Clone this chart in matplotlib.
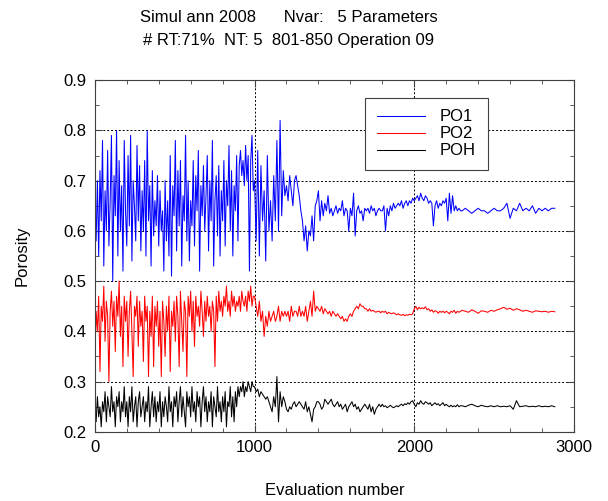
import numpy as np
import matplotlib
matplotlib.use("Agg")
import matplotlib.pyplot as plt
from matplotlib.ticker import MultipleLocator

plt.rcParams['font.family'] = ['Liberation Sans', 'DejaVu Sans']

# evaluation numbers for the sampled stretches
x_early = np.arange(0, 1000, 8)       # 125 points
x_mid = np.arange(1000, 1400, 10)     # 40 points
x_late1 = np.arange(1400, 2300, 10)   # 90 points
x_late2 = np.arange(2300, 2881, 20)   # 30 points

po1_early = [0.64,0.58,0.70,0.55,0.72,0.62,0.78,0.53,0.68,0.60,0.76,0.57,0.66,
             0.79,0.50,0.71,0.63,0.80,0.55,0.74,0.60,0.69,0.52,0.78,0.64,
             0.57,0.75,0.61,0.79,0.54,0.70,0.65,0.58,0.77,0.62,0.73,0.56,0.68,
             0.60,0.74,0.55,0.80,0.62,0.69,0.53,0.72,0.59,0.66,0.61,0.71,
             0.57,0.68,0.60,0.64,0.52,0.70,0.58,0.66,0.55,0.75,0.51,0.69,0.63,
             0.78,0.56,0.72,0.61,0.74,0.53,0.67,0.62,0.79,0.58,0.70,0.54,
             0.66,0.61,0.74,0.57,0.71,0.64,0.76,0.52,0.69,0.63,0.73,0.60,0.67,
             0.75,0.56,0.70,0.62,0.78,0.53,0.66,0.71,0.59,0.73,0.55,0.68,
             0.62,0.74,0.57,0.70,0.65,0.77,0.60,0.72,0.55,0.69,0.64,0.75,0.58,
             0.73,0.76,0.71,0.74,0.69,0.77,0.70,0.75,0.52,0.74,0.79,0.68]
po1_mid = [0.70,0.58,0.76,0.55,0.73,0.62,0.68,0.54,0.75,0.60,
           0.66,0.58,0.71,0.62,0.78,0.60,0.82,0.63,0.72,0.67,
           0.69,0.66,0.71,0.68,0.65,0.70,0.71,0.69,0.67,0.64,
           0.62,0.58,0.61,0.56,0.60,0.59,0.63,0.58,0.65,0.66]
po1_late1 = [0.68,0.62,0.66,0.63,0.655,0.64,0.67,0.635,0.645,0.63,
             0.64,0.65,0.635,0.645,0.64,0.66,0.63,0.645,0.64,0.60,
             0.645,0.63,0.675,0.59,0.64,0.65,0.635,0.64,0.62,0.645,
             0.64,0.645,0.635,0.65,0.64,0.645,0.63,0.64,0.645,0.64,
             0.64,0.65,0.60,0.645,0.63,0.65,0.64,0.655,0.645,0.65,
             0.655,0.65,0.66,0.645,0.655,0.66,0.65,0.66,0.655,0.665,
             0.66,0.665,0.67,0.66,0.675,0.665,0.66,0.67,0.665,0.655,
             0.66,0.655,0.61,0.65,0.66,0.645,0.655,0.65,0.66,0.655,
             0.665,0.62,0.675,0.635,0.67,0.64,0.65,0.64,0.645,0.64]
po1_late2 = [0.64,0.645,0.64,0.635,0.64,0.645,0.64,0.64,0.635,0.64,
             0.645,0.64,0.64,0.645,0.655,0.625,0.645,0.64,0.655,0.64,
             0.645,0.64,0.65,0.635,0.645,0.64,0.645,0.64,0.645,0.645]

po2_early = [0.35,0.44,0.40,0.47,0.32,0.45,0.42,0.49,0.38,0.46,0.43,0.30,0.44,
             0.48,0.41,0.46,0.36,0.47,0.43,0.50,0.39,0.45,0.33,0.47,0.42,
             0.46,0.35,0.44,0.48,0.40,0.31,0.45,0.43,0.47,0.37,0.46,0.41,0.44,
             0.34,0.47,0.42,0.45,0.31,0.44,0.39,0.47,0.33,0.45,0.41,0.46,
             0.37,0.44,0.31,0.46,0.42,0.35,0.45,0.40,0.47,0.32,0.44,0.41,0.46,
             0.38,0.47,0.43,0.33,0.48,0.42,0.36,0.46,0.44,0.31,0.47,0.43,
             0.48,0.40,0.46,0.37,0.47,0.43,0.45,0.41,0.48,0.44,0.39,0.46,0.42,
             0.47,0.43,0.45,0.40,0.46,0.44,0.33,0.47,0.42,0.48,0.44,0.46,
             0.43,0.47,0.45,0.49,0.44,0.46,0.43,0.48,0.45,0.47,0.44,0.46,0.45,
             0.47,0.44,0.48,0.46,0.45,0.47,0.44,0.48,0.46,0.49,0.45,0.47]
po2_mid = [0.47,0.45,0.43,0.46,0.42,0.44,0.39,0.43,0.41,0.44,
           0.42,0.43,0.44,0.42,0.43,0.45,0.42,0.44,0.43,0.44,
           0.43,0.44,0.42,0.45,0.43,0.44,0.44,0.43,0.45,0.43,
           0.44,0.43,0.45,0.42,0.44,0.46,0.43,0.48,0.44,0.45]
po2_late1 = [0.445,0.44,0.45,0.435,0.445,0.44,0.435,0.44,0.43,0.44,
             0.435,0.43,0.435,0.43,0.425,0.43,0.42,0.425,0.42,0.43,
             0.435,0.43,0.44,0.445,0.45,0.445,0.455,0.45,0.45,0.445,
             0.445,0.44,0.445,0.44,0.442,0.44,0.438,0.44,0.44,0.437,
             0.44,0.438,0.44,0.435,0.438,0.436,0.435,0.437,0.435,0.433,
             0.435,0.433,0.432,0.434,0.431,0.433,0.432,0.434,0.433,0.435,
             0.445,0.45,0.443,0.448,0.445,0.447,0.445,0.449,0.443,0.445,
             0.44,0.443,0.438,0.441,0.44,0.436,0.44,0.438,0.44,0.437,
             0.44,0.438,0.435,0.44,0.438,0.442,0.436,0.44,0.438,0.44]
po2_late2 = [0.442,0.44,0.438,0.443,0.44,0.436,0.441,0.44,0.438,0.442,
             0.44,0.443,0.445,0.448,0.444,0.446,0.442,0.445,0.443,0.44,
             0.442,0.44,0.438,0.441,0.44,0.439,0.44,0.438,0.44,0.439]

poh_early = [0.24,0.22,0.27,0.23,0.25,0.21,0.26,0.24,0.28,0.22,0.27,0.25,0.23,
             0.29,0.24,0.26,0.21,0.27,0.25,0.28,0.22,0.26,0.24,0.29,0.23,
             0.26,0.21,0.27,0.24,0.29,0.22,0.25,0.27,0.21,0.26,0.28,0.23,0.25,
             0.27,0.22,0.26,0.24,0.29,0.21,0.25,0.28,0.23,0.27,0.22,0.26,
             0.24,0.28,0.21,0.26,0.23,0.27,0.25,0.22,0.29,0.24,0.26,0.21,0.27,
             0.25,0.28,0.22,0.26,0.29,0.23,0.27,0.24,0.21,0.28,0.25,0.27,
             0.23,0.29,0.24,0.26,0.22,0.28,0.25,0.27,0.21,0.26,0.29,0.24,0.27,
             0.22,0.26,0.24,0.28,0.21,0.27,0.25,0.23,0.29,0.24,0.26,0.22,
             0.27,0.24,0.28,0.21,0.26,0.25,0.29,0.23,0.27,0.22,0.28,0.25,0.29,
             0.27,0.29,0.28,0.30,0.27,0.29,0.28,0.30,0.29,0.28,0.30,0.29]
poh_mid = [0.29,0.28,0.285,0.27,0.28,0.275,0.27,0.265,0.27,0.26,
           0.25,0.24,0.27,0.25,0.31,0.22,0.28,0.25,0.27,0.26,
           0.245,0.24,0.25,0.245,0.255,0.26,0.25,0.255,0.26,0.255,
           0.25,0.245,0.26,0.24,0.25,0.235,0.22,0.245,0.25,0.26]
poh_late1 = [0.26,0.255,0.245,0.25,0.265,0.26,0.255,0.26,0.265,0.255,
             0.25,0.255,0.26,0.25,0.255,0.245,0.25,0.255,0.24,0.25,
             0.255,0.26,0.25,0.255,0.245,0.25,0.24,0.245,0.25,0.255,
             0.25,0.245,0.255,0.24,0.25,0.235,0.245,0.25,0.255,0.25,
             0.255,0.25,0.252,0.248,0.25,0.253,0.25,0.248,0.25,0.252,
             0.25,0.253,0.255,0.252,0.256,0.254,0.258,0.255,0.26,0.262,
             0.255,0.25,0.258,0.255,0.262,0.257,0.255,0.26,0.258,0.255,
             0.258,0.252,0.255,0.258,0.254,0.256,0.252,0.255,0.258,0.252,
             0.255,0.252,0.25,0.253,0.25,0.252,0.25,0.254,0.25,0.252]
poh_late2 = [0.252,0.25,0.253,0.255,0.252,0.25,0.253,0.251,0.25,0.252,
             0.25,0.252,0.25,0.251,0.25,0.252,0.245,0.262,0.25,0.251,
             0.252,0.25,0.251,0.25,0.252,0.25,0.251,0.25,0.252,0.25]

x = np.concatenate([x_early, x_mid, x_late1, x_late2])
po1 = np.concatenate([po1_early, po1_mid, po1_late1, po1_late2])
po2 = np.concatenate([po2_early, po2_mid, po2_late1, po2_late2])
poh = np.concatenate([poh_early, poh_mid, poh_late1, poh_late2])

fig = plt.figure(figsize=(6.08, 5.01), dpi=100)
ax = fig.add_axes([0.156, 0.138, 0.788, 0.702])

ax.plot(x, po1, color='#0000ff', lw=0.75, label='PO1')
ax.plot(x, po2, color='#ff0000', lw=0.75, label='PO2')
ax.plot(x, poh, color='black', lw=0.75, label='POH')

ax.set_xlim(0, 3000)
ax.set_ylim(0.2, 0.9)
ax.xaxis.set_major_locator(MultipleLocator(1000))
ax.xaxis.set_minor_locator(MultipleLocator(200))
ax.yaxis.set_major_locator(MultipleLocator(0.1))
ax.yaxis.set_minor_locator(MultipleLocator(0.05))
ax.tick_params(which='both', direction='in', top=True, right=True, labelsize=12, color='#404040')
ax.tick_params(which='major', length=5, pad=6)
ax.tick_params(which='minor', length=3)
ax.grid(True, which='major', color='black', linestyle=(0, (2, 2)), linewidth=0.7)
for s in ax.spines.values():
    s.set_color('#404040')

ax.set_xlabel('Evaluation number', fontsize=12, labelpad=20)
ax.set_ylabel('Porosity', fontsize=12, labelpad=24)

fig.text(0.475, 0.965, 'Simul ann 2008      Nvar:   5 Parameters', ha='center', va='center', fontsize=12)
fig.text(0.475, 0.920, '# RT:71%  NT: 5  801-850 Operation 09', ha='center', va='center', fontsize=12)

leg = ax.legend(loc='upper left', bbox_to_anchor=(0.564, 0.95), borderaxespad=0,
                fontsize=12, fancybox=False, framealpha=1, edgecolor='#404040',
                handlelength=2.9, handletextpad=0.9, borderpad=0.7, labelspacing=0.12)
leg.get_frame().set_linewidth(0.8)

fig.savefig('out.png', dpi=100)
